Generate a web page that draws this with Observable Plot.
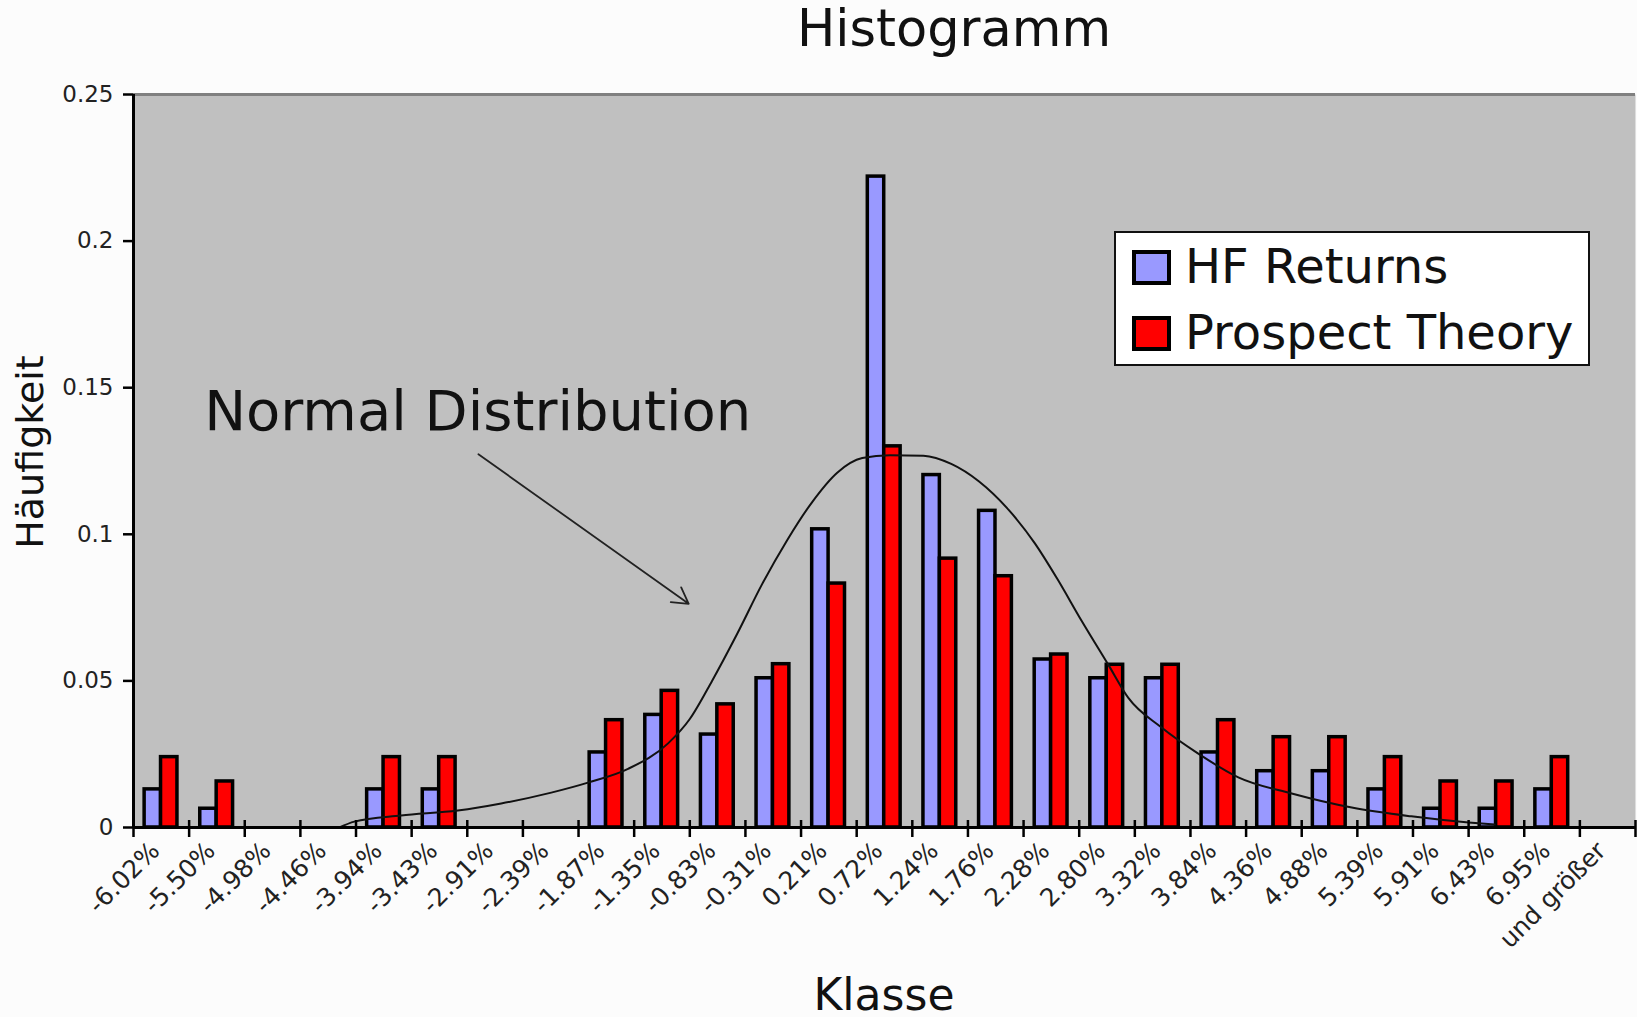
<!DOCTYPE html>
<html><head><meta charset="utf-8">
<script src="https://cdn.jsdelivr.net/npm/d3@7"></script>
<script src="https://cdn.jsdelivr.net/npm/@observablehq/plot@0.6"></script>
<style>html,body{margin:0;padding:0;background:#fcfcfc;} svg{display:block}</style>
</head><body><div id="chart"></div>
<script>
// ---- data ----
const categories = ["-6.02%","-5.50%","-4.98%","-4.46%","-3.94%","-3.43%","-2.91%","-2.39%","-1.87%","-1.35%","-0.83%","-0.31%","0.21%","0.72%","1.24%","1.76%","2.28%","2.80%","3.32%","3.84%","4.36%","4.88%","5.39%","5.91%","6.43%","6.95%","und größer"];
const hfReturns = [0.013,0.0064,0,0,0.013,0.013,0,0,0.0256,0.0384,0.0317,0.0509,0.1017,0.222,0.1202,0.108,0.0573,0.0509,0.0509,0.0256,0.0192,0.0192,0.013,0.0064,0.0064,0.013,0];
const prospectTheory = [0.024,0.0157,0,0,0.024,0.024,0,0,0.0366,0.0466,0.042,0.0557,0.0832,0.130,0.0917,0.0857,0.059,0.0555,0.0555,0.0366,0.0308,0.0308,0.024,0.0157,0.0157,0.024,0];
// normal distribution curve, position in category units (0 = left edge of first class)
const normalPos = [3.70,3.97,4.81,5.83,6.61,7.51,8.17,8.89,9.61,10.0,10.4,10.85,11.3,11.75,12.2,12.65,13.1,13.6,14.2,14.7,15.2,15.7,16.2,16.6,17.04,17.53,17.88,18.48,19.14,19.86,20.82,21.9,22.97,24.0,24.47];
const normalVal = [0,0.002,0.0041,0.0058,0.0082,0.0119,0.0153,0.020,0.0287,0.037,0.050,0.066,0.083,0.098,0.111,0.121,0.126,0.127,0.1268,0.124,0.118,0.109,0.097,0.085,0.0706,0.0553,0.0443,0.0341,0.0252,0.0171,0.0116,0.0068,0.0038,0.0017,0.001];
const yTicks = [0,0.05,0.1,0.15,0.2,0.25];
const yTickLabels = ["0","0.05","0.1","0.15","0.2","0.25"];
const seriesNames = ["HF Returns","Prospect Theory"];
const seriesColors = ["#9999ff","#ff0000"];
const titleText = "Histogramm";
const xLabel = "Klasse";
const yLabel = "Häufigkeit";
const annotationText = "Normal Distribution";
const annotation = [{tx:1.27, ty:0.1357, x1:6.20, y1:0.1273, x2:9.98, y2:0.0763}];

// ---- build ----
const rows = categories.map((c,i)=>({i, c, hf:hfReturns[i], pt:prospectTheory[i]}));
const curve = normalPos.map((p,i)=>({p, v:normalVal[i]}));
const bounds = d3.range(categories.length+1);
const W = 1637, H = 1017;
const FONT = "DejaVu Sans";

const chart = Plot.plot({
  width: W, height: H,
  marginLeft: 133, marginRight: 2, marginTop: 94, marginBottom: 190,
  style: {background:"#fcfcfc", fontFamily: FONT, fontSize:"22px", overflow:"visible"},
  x: {domain:[0, categories.length], axis:null},
  y: {domain:[0, 0.25], axis:null},
  marks: [
    Plot.frame({fill:"#c0c0c0", stroke:null}),
    Plot.ruleY([0.25], {stroke:"#808080", strokeWidth:3}),
    Plot.rectY(rows.filter(d=>d.hf>0), {x1:d=>d.i+0.2, x2:d=>d.i+0.495, y:"hf", fill:seriesColors[0], stroke:"#000", strokeWidth:3.5}),
    Plot.rectY(rows.filter(d=>d.pt>0), {x1:d=>d.i+0.495, x2:d=>d.i+0.79, y:"pt", fill:seriesColors[1], stroke:"#000", strokeWidth:3.5}),
    Plot.line(curve, {x:"p", y:"v", curve:"monotone-x", stroke:"#111", strokeWidth:2}),
    Plot.ruleX(bounds, {y1:0, y2:0, insetTop:10, insetBottom:7, stroke:"#000", strokeWidth:2.5}),
    Plot.ruleY([0], {stroke:"#000", strokeWidth:3}),
    Plot.ruleX([0], {stroke:"#000", strokeWidth:3}),
    Plot.axisY({ticks:yTicks, tickFormat:d=>yTickLabels[yTicks.indexOf(d)], tickSize:10, tickPadding:10, fontSize:23, stroke:"#000", strokeWidth:2.5, fill:"#222", label:null}),
    Plot.text(rows, {x:d=>d.i+0.5, frameAnchor:"bottom", text:"c", rotate:-45, textAnchor:"end", lineAnchor:"middle", dx:-6, dy:19, fontSize:25, fill:"#222"}),
    Plot.text(annotation, {x:"tx", y:"ty", text:()=>annotationText, textAnchor:"start", lineAnchor:"bottom", fontSize:56, fill:"#111"}),
    Plot.arrow(annotation, {x1:"x1", y1:"y1", x2:"x2", y2:"y2", stroke:"#222", strokeWidth:1.8, headLength:15})
  ]
});

const svg = d3.select(chart);
// title and axis labels
svg.append("text").attr("x",954).attr("y",46).attr("text-anchor","middle")
  .style("font-family",FONT).style("font-size","51px").attr("fill","#111").text(titleText);
svg.append("text").attr("x",884).attr("y",1010).attr("text-anchor","middle")
  .style("font-family",FONT).style("font-size","44px").attr("fill","#111").text(xLabel);
svg.append("text").attr("transform","translate(43,452) rotate(-90)").attr("text-anchor","middle")
  .style("font-family",FONT).style("font-size","38px").attr("fill","#111").text(yLabel);
// legend
const lg = svg.append("g");
lg.append("rect").attr("x",1115).attr("y",232).attr("width",474).attr("height",133)
  .attr("fill","#fff").attr("stroke","#111").attr("stroke-width",2);
seriesNames.forEach((name,i)=>{
  const yy = 252 + i*66;
  lg.append("rect").attr("x",1134).attr("y",yy).attr("width",35).attr("height",31)
    .attr("fill",seriesColors[i]).attr("stroke","#000").attr("stroke-width",4);
  lg.append("text").attr("x",1185).attr("y",yy+31).attr("text-anchor","start")
    .style("font-family",FONT).style("font-size","48px")
    .attr("fill","#111").text(name);
});
document.getElementById("chart").appendChild(chart);
</script>
</body></html>
